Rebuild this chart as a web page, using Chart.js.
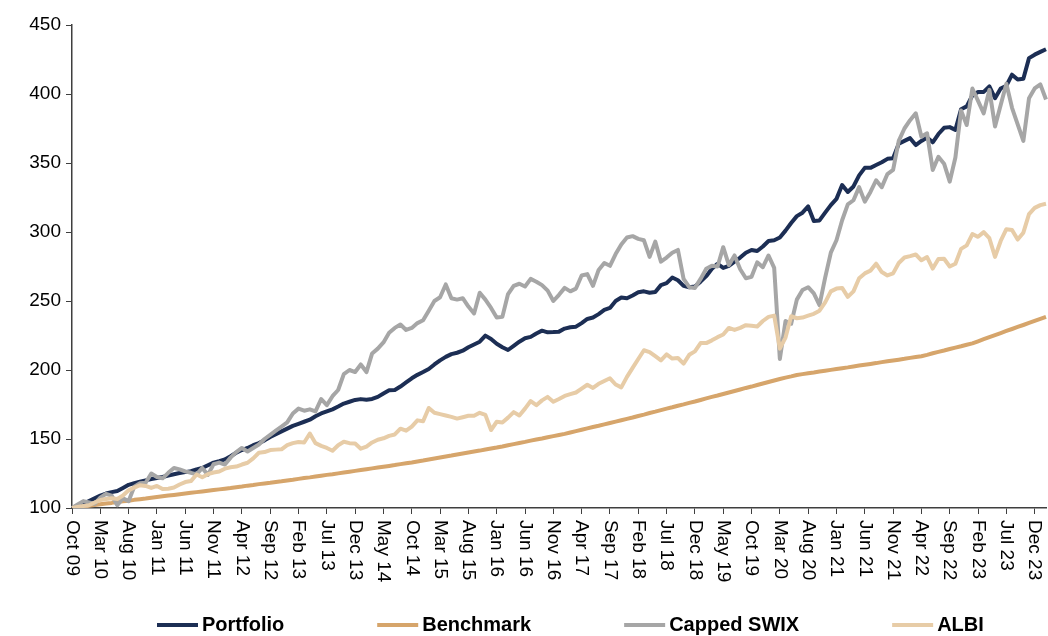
<!DOCTYPE html>
<html>
<head>
<meta charset="utf-8">
<title>Portfolio vs Benchmark</title>
<script src="https://cdn.jsdelivr.net/npm/chart.js@4.4.1/dist/chart.umd.min.js"></script>
<style>
    html, body { margin: 0; padding: 0; background: #fff; }
    #wrap { width: 1048px; height: 636px; }
</style>
</head>
<body>
<div id="wrap"><canvas id="growthChart" width="1048" height="636"></canvas></div>
<script>
// Monthly index values, Oct 09 = 100 (Oct 09 .. Feb 24)
const portfolio = [
    100, 101.5, 103, 105, 107, 109, 110.5, 111.5, 112.3, 114.5,
    116.8, 118, 119, 120, 121, 121.7, 122.5, 123.5, 124.5, 125.3,
    126, 126.7, 128, 129, 131, 132.9, 134, 135.2, 137.5, 140,
    142, 143.5, 145.5, 147, 149, 151.5, 153.5, 155.5, 157.5, 159.5,
    161, 162.5, 164, 166.5, 168.5, 170, 171.5, 173.5, 175.7, 177,
    178.3, 178.9, 178.5, 179, 180.5, 183, 185.3, 185.5, 188, 191,
    194, 196.5, 198.5, 200.7, 204, 207, 209.5, 211.5, 212.5, 214,
    216.5, 218.5, 220.5, 224.9, 222.5, 219, 216.5, 214.5, 217.5, 220.5,
    223, 224, 226.5, 228.5, 227.3, 227.5, 227.8, 230, 231, 231.4,
    234, 237, 238, 240.5, 243.5, 245, 250, 252.5, 252, 254,
    256.3, 257, 256, 256.5, 261.5, 262.9, 267, 265, 261, 260,
    260.5, 264, 268, 273.3, 277, 274, 275.5, 278.5, 281.5, 285,
    287, 286.2, 289.5, 293.5, 294, 296, 301, 306.5, 311.5, 314,
    318.5, 308, 308.4, 314, 319.5, 324, 334, 329, 333, 341,
    346.5, 346.5, 348.5, 350.5, 353, 353.5, 364, 366, 368, 363,
    366, 368.5, 365, 371, 375.5, 376, 374, 389, 391, 399,
    401.5, 401.5, 405.5, 397, 404, 406, 414, 410.5, 411, 426,
    428.5, 430.5, 432.4
];

const benchmark = [
    100, 100.5, 101.1, 101.6, 102.1, 102.7, 103.2, 103.7, 104.3, 104.8, 105.3, 105.9, 106.4, 106.9, 107.5, 108,
    108.5, 109, 109.5, 110, 110.5, 111, 111.5, 112, 112.5, 113, 113.5, 114,
    114.5, 115.1, 115.6, 116.2, 116.7, 117.3, 117.8, 118.3, 118.9, 119.4, 120, 120.5,
    121.1, 121.7, 122.2, 122.8, 123.4, 124, 124.5, 125.1, 125.7,
    126.3, 126.9, 127.5, 128.1, 128.7, 129.3, 129.9, 130.5,
    131.1, 131.8, 132.4, 133,
    133.7, 134.4, 135.2, 135.9, 136.6, 137.3, 138, 138.8, 139.5, 140.2, 140.9, 141.6, 142.4, 143.1, 143.8,
    144.6, 145.5, 146.3, 147.1, 147.9, 148.8, 149.6, 150.4, 151.3, 152.1, 152.9, 153.7,
    154.7, 155.7, 156.7, 157.7, 158.7, 159.6, 160.6, 161.6, 162.6, 163.6, 164.6, 165.6,
    166.7, 167.7, 168.8, 169.8, 170.9, 172, 173, 174.1, 175.1, 176.2, 177.2, 178.3,
    179.4, 180.5, 181.5, 182.6, 183.7, 184.8, 185.9, 187, 188, 189.1, 190.2, 191.3,
    192.4, 193.5, 194.5, 195.4, 196.4,
    197, 197.6, 198.2, 198.9, 199.5, 200.1, 200.7,
    201.3, 201.9, 202.6, 203.2, 203.8, 204.4, 205, 205.7, 206.3, 206.9, 207.5, 208.1, 208.8, 209.4, 210,
    211, 212.1, 213.1, 214.1, 215.2, 216.2, 217.2, 218.3, 219.3,
    220.8, 222.3, 223.8, 225.3, 226.8,
    228.3, 229.7, 231.2, 232.6, 234.1, 235.6, 237, 238.5
];

const cappedSwix = [
    100, 102.5, 105, 104, 103, 107.5, 110.3, 109, 102, 107,
    105, 115.5, 117.9, 118.3, 125, 122.5, 121.5, 125.5, 129, 128,
    126.5, 125.5, 124.4, 129, 124, 131.7, 132.9, 131.5, 136.5, 140.5,
    143.5, 141, 143.5, 146, 150, 153, 156, 159, 162, 168.5,
    172, 170.5, 171.5, 170, 179, 174.5, 181, 185.5, 197, 200,
    198.5, 204, 198.5, 212, 215.5, 220, 227, 230.5, 233, 229,
    230.5, 234, 236, 243, 250, 252.7, 262, 252, 251, 252,
    246, 241, 256, 251, 245, 238, 238.5, 255, 261, 262.5,
    260.5, 266, 264, 261.5, 257.5, 250, 254.5, 259.5, 257, 259,
    268.5, 269.5, 261, 272.5, 277.5, 275.5, 284, 291, 296, 297,
    295, 294, 282, 293, 278.5, 281.5, 285, 287, 266, 260,
    259.5, 266, 273.3, 275.5, 275, 289, 276, 283, 273, 266.5,
    267.5, 278, 274.5, 283, 274, 208, 235.5, 233.5, 251, 258,
    260, 255.5, 247, 267, 285, 294, 308.5, 320, 323, 332.5,
    322, 329, 337.5, 332.5, 342, 345, 366, 375, 381, 386,
    369, 371.5, 345, 354.5, 349.5, 336.5, 354, 388, 377.5, 404,
    395, 386, 403, 376.5, 392, 407.5, 390, 378, 366, 397,
    404, 407, 396
];

const albi = [
    100, 100.8, 101.5, 102, 104, 105.8, 106.5, 107, 106.5, 109,
    112.8, 114.8, 116.5, 116, 114.5, 116, 113.8, 114, 114.8, 117,
    118.8, 119.5, 124.3, 122.3, 124.5, 125.7, 126.4, 128.5, 129.5, 130,
    131.5, 132.8, 136, 140, 140.5, 142, 142.3, 142.5, 145.5, 147,
    147.8, 147.5, 154, 147, 145, 143.5, 141.5, 145.5, 148, 147,
    146.8, 143, 144.5, 147.5, 149.5, 150.5, 152.3, 153.3, 157.5, 156,
    159, 163.5, 162.8, 172.5, 169, 168, 167, 166, 164.8, 165.8,
    166.8, 166.8, 169, 167.5, 156.5, 162.5, 162, 165.5, 169.5, 167,
    172, 177.5, 174.5, 178, 180.5, 177, 179, 181.2, 182.5, 183.7,
    186.5, 189.3, 187, 190, 192, 194, 189.5, 187.4, 195, 201.5,
    208, 214.3, 213, 210, 207, 211.3, 208.3, 208.7, 204.6, 211,
    213.5, 219.5, 219.5, 221.5, 223.8, 225.7, 230.5, 229, 230.5, 232.5,
    232, 231.5, 235.5, 238.5, 239.4, 215.5, 223.5, 239, 237.5, 238,
    239.4, 240.7, 243, 249, 257, 259, 259.5, 253, 257, 266.5,
    270, 272, 277, 271, 268.5, 270, 277.5, 281.5, 282.5, 283.7,
    279.5, 281.8, 273.5, 280.5, 280.6, 275, 277, 287.8, 290.3, 298.5,
    296.5, 299.9, 295.5, 282, 293.5, 302, 301.5, 294.5, 299.5, 313,
    317.5, 319.5, 320.5
];

const seriesNames = ['Portfolio', 'Benchmark', 'Capped SWIX', 'ALBI'];
const seriesColors = ['#1C2E54', '#D6A56B', '#A6A6A6', '#E7CCA7'];

const yTicks = [100, 150, 200, 250, 300, 350, 400, 450];

// Month labels, one per data point, starting Oct 09
const MONTH_NAMES = ['Jan', 'Feb', 'Mar', 'Apr', 'May', 'Jun', 'Jul', 'Aug', 'Sep', 'Oct', 'Nov', 'Dec'];
const months = [];
for (let k = 0; k < portfolio.length; k++) {
    const m = 9 + k;
    months.push(MONTH_NAMES[m % 12] + ' ' + String(2009 + Math.floor(m / 12)).slice(2));
}
const TICK_EVERY = 5;

const FONT = '"Liberation Sans", Arial, sans-serif';
const AXIS_COLOR = '#3F3F3F';

// Rotated x labels, reading top to bottom like the original
const xLabelsPlugin = {
    id: 'xLabels',
    afterDraw(chart) {
        const scale = chart.scales.x;
        const ctx = chart.ctx;
        ctx.save();
        ctx.font = '19px ' + FONT;
        ctx.fillStyle = '#000';
        ctx.textAlign = 'left';
        ctx.textBaseline = 'middle';
        months.forEach((label, i) => {
            if (i % TICK_EVERY !== 0) return;
            ctx.save();
            ctx.translate(scale.getPixelForValue(i), scale.top + 12);
            ctx.rotate(Math.PI / 2);
            ctx.fillText(label, 0, 0);
            ctx.restore();
        });
        ctx.restore();
    }
};

// Legend along the bottom
const legendPlugin = {
    id: 'bottomLegend',
    afterDraw(chart) {
        const ctx = chart.ctx;
        const y = 625;
        let x = 157;
        ctx.save();
        ctx.font = 'bold 20px ' + FONT;
        ctx.textBaseline = 'middle';
        ctx.textAlign = 'left';
        chart.data.datasets.forEach(ds => {
            ctx.strokeStyle = ds.borderColor;
            ctx.lineWidth = 4;
            ctx.beginPath();
            ctx.moveTo(x, y);
            ctx.lineTo(x + 41, y);
            ctx.stroke();
            ctx.fillStyle = '#000';
            ctx.fillText(ds.label, x + 45, y);
            x += 45 + ctx.measureText(ds.label).width + 93;
        });
        ctx.restore();
    }
};

const seriesData = [portfolio, benchmark, cappedSwix, albi];

new Chart(document.getElementById('growthChart'), {
    type: 'line',
    data: {
        labels: months,
        datasets: seriesNames.map((name, i) => ({
            label: name,
            data: seriesData[i],
            borderColor: seriesColors[i],
            backgroundColor: seriesColors[i],
            borderWidth: 4,
            borderJoinStyle: 'round',
            pointRadius: 0,
            tension: 0,
            // later series on top, as in the original
            order: seriesNames.length - i
        }))
    },
    options: {
        responsive: false,
        animation: false,
        layout: { padding: { top: 25, right: 2, left: 0, bottom: 0 } },
        plugins: {
            legend: { display: false },
            tooltip: { enabled: false }
        },
        scales: {
            x: {
                ticks: { display: false, autoSkip: false },
                grid: {
                    drawOnChartArea: false,
                    drawTicks: true,
                    tickLength: 6,
                    color: c => c.index % TICK_EVERY === 0 ? AXIS_COLOR : 'rgba(0,0,0,0)'
                },
                border: { display: true, color: AXIS_COLOR, width: 1.5 },
                afterFit: scale => { scale.height = 128; }
            },
            y: {
                min: yTicks[0],
                max: yTicks[yTicks.length - 1],
                afterBuildTicks: scale => { scale.ticks = yTicks.map(v => ({ value: v })); },
                ticks: {
                    color: '#000',
                    font: { family: FONT, size: 19 },
                    padding: 5
                },
                grid: {
                    drawOnChartArea: false,
                    drawTicks: true,
                    tickLength: 6,
                    color: AXIS_COLOR
                },
                border: { display: true, color: AXIS_COLOR, width: 1.5 },
                afterFit: scale => { scale.width = 72; }
            }
        }
    },
    plugins: [xLabelsPlugin, legendPlugin]
});
</script>
</body>
</html>
